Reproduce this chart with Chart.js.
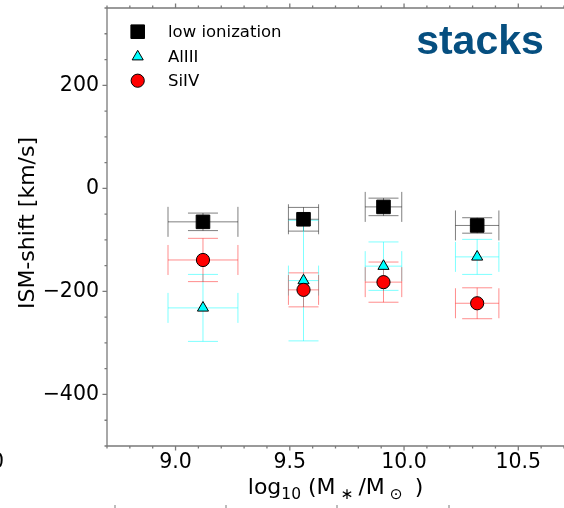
<!DOCTYPE html>
<html>
<head>
<meta charset="utf-8">
<script src="https://cdn.jsdelivr.net/npm/chart.js@4.4.1/dist/chart.umd.min.js"></script>
<style>
html, body { margin: 0; padding: 0; background: #fff; overflow: hidden; }
canvas { display: block; }
</style>
</head>
<body>
<canvas id="ismShift" width="564" height="508"></canvas>
<script>
// stacked spectra: stellar mass bins and measured ISM velocity shifts
const stellarMass = [9.12, 9.56, 9.91, 10.32];
const massErr = [0.153, 0.066, 0.08, 0.095];

const lowIonShift = [-65, -60, -36, -72];
const lowIonErr = [17, 23, 17, 15];
const al3Shift = [-232, -179, -151, -133];
const al3Err = [65, 117, 47, 34];
const si4Shift = [-139, -197, -182, -223];
const si4Err = [42, 33, 39, 30];

const xMajorTicks = [9.0, 9.5, 10.0, 10.5];
const yMajorTicks = [-400, -200, 0, 200];

const FONT = 'DejaVu Sans';
const AXIS_GREY = '#7a7a7a';

function points(ys) {
    return stellarMass.map(function (m, i) {
        return { x: m, y: ys[i] };
    });
}

// per dataset: y errors and the colour of the bars
const errorSets = [
    { err: lowIonErr, color: 'rgba(0, 0, 0, 0.5)' },
    { err: al3Err, color: 'rgba(0, 255, 255, 0.5)' },
    { err: si4Err, color: 'rgba(255, 0, 0, 0.45)' }
];

function stepValues(min, max, step) {
    const out = [];
    for (let v = Math.ceil(min / step - 1e-9) * step; v <= max + 1e-9; v += step) {
        out.push(Math.round(v * 1000) / 1000);
    }
    return out;
}

const errorBars = {
    id: 'errorBars',
    beforeDatasetsDraw(chart) {
        const ctx = chart.ctx;
        const x = chart.scales.x;
        const y = chart.scales.y;
        const cap = 15;
        ctx.save();
        ctx.lineWidth = 1;
        chart.data.datasets.forEach(function (ds, i) {
            const e = errorSets[i];
            ctx.strokeStyle = e.color;
            ds.data.forEach(function (p, j) {
                const px = x.getPixelForValue(p.x);
                const py = y.getPixelForValue(p.y);
                const xl = x.getPixelForValue(p.x - massErr[j]);
                const xr = x.getPixelForValue(p.x + massErr[j]);
                const yt = y.getPixelForValue(p.y + e.err[j]);
                const yb = y.getPixelForValue(p.y - e.err[j]);
                ctx.beginPath();
                ctx.moveTo(xl, py); ctx.lineTo(xr, py);
                ctx.moveTo(xl, py - cap); ctx.lineTo(xl, py + cap);
                ctx.moveTo(xr, py - cap); ctx.lineTo(xr, py + cap);
                ctx.moveTo(px, yt); ctx.lineTo(px, yb);
                ctx.moveTo(px - cap, yt); ctx.lineTo(px + cap, yt);
                ctx.moveTo(px - cap, yb); ctx.lineTo(px + cap, yb);
                ctx.stroke();
            });
        });
        ctx.restore();
    }
};

// spines plus major/minor tick marks (left, bottom and top)
const frame = {
    id: 'frame',
    afterDraw(chart) {
        const ctx = chart.ctx;
        const a = chart.chartArea;
        const x = chart.scales.x;
        const y = chart.scales.y;
        ctx.save();
        ctx.strokeStyle = AXIS_GREY;
        ctx.lineWidth = 1.3;
        ctx.beginPath();
        ctx.moveTo(a.left, a.top); ctx.lineTo(a.left, a.bottom);
        ctx.moveTo(a.left, a.bottom); ctx.lineTo(a.right + 2, a.bottom);
        ctx.moveTo(a.left, a.top); ctx.lineTo(a.right + 2, a.top);
        stepValues(x.min, x.max, 0.1).forEach(function (v) {
            const len = xMajorTicks.some(function (t) { return Math.abs(t - v) < 1e-6; }) ? 4.5 : 2.5;
            const px = x.getPixelForValue(v);
            ctx.moveTo(px, a.bottom); ctx.lineTo(px, a.bottom + len);
            ctx.moveTo(px, a.top); ctx.lineTo(px, a.top - len);
        });
        stepValues(y.min, y.max, 50).forEach(function (v) {
            const len = yMajorTicks.indexOf(v) >= 0 ? 4.5 : 2.5;
            const py = y.getPixelForValue(v);
            ctx.moveTo(a.left, py); ctx.lineTo(a.left - len, py);
        });
        ctx.stroke();
        ctx.restore();
    }
};

// axis titles, legend, panel tag
const annotations = {
    id: 'annotations',
    afterDraw(chart) {
        const ctx = chart.ctx;
        const a = chart.chartArea;
        ctx.save();
        ctx.fillStyle = '#000';

        // y title
        ctx.save();
        ctx.translate(33.5, (a.top + a.bottom) / 2 - 4);
        ctx.rotate(-Math.PI / 2);
        ctx.font = '22px "' + FONT + '"';
        ctx.textAlign = 'center';
        ctx.textBaseline = 'alphabetic';
        ctx.fillText('ISM-shift [km/s]', 0, 0);
        ctx.restore();

        // x title with subscripts
        const parts = [['log', 0], ['10', 1], [' (M', 0], [' \u2217 ', 1], ['/M', 0], [' \u2299 ', 1], [' )', 0]];
        const big = '22px "' + FONT + '"';
        const small = '15.5px "' + FONT + '"';
        let total = 0;
        parts.forEach(function (p) {
            ctx.font = p[1] ? small : big;
            total += ctx.measureText(p[0]).width;
        });
        let cx = (a.left + a.right) / 2 - total / 2;
        const base = 494;
        ctx.textAlign = 'left';
        ctx.textBaseline = 'alphabetic';
        parts.forEach(function (p) {
            ctx.font = p[1] ? small : big;
            ctx.fillText(p[0], cx, base + (p[1] ? 4.5 : 0));
            cx += ctx.measureText(p[0]).width;
        });

        // legend
        const rowY = [31.7, 56.7, 80.7];
        ctx.font = '16.5px "' + FONT + '"';
        ctx.textBaseline = 'middle';
        chart.data.datasets.forEach(function (ds, i) {
            ctx.fillStyle = ds.backgroundColor;
            ctx.strokeStyle = ds.borderColor;
            ctx.lineWidth = ds.borderWidth;
            Chart.helpers.drawPoint(ctx, {
                pointStyle: ds.pointStyle,
                radius: ds.pointRadius,
                borderWidth: ds.borderWidth,
                rotation: 0
            }, 137.7, rowY[i]);
            ctx.fillStyle = '#000';
            ctx.fillText(ds.label, 168, rowY[i] + 1);
        });

        // panel tag
        ctx.font = 'bold 41px "Liberation Sans"';
        ctx.fillStyle = '#064f80';
        ctx.textAlign = 'center';
        ctx.textBaseline = 'alphabetic';
        ctx.fillText('stacks', 480, 54);

        // edge of the neighbouring panel's tick label and tick row
        ctx.fillStyle = '#000';
        ctx.font = '20.5px "' + FONT + '"';
        ctx.textAlign = 'right';
        ctx.fillText('0', 4, 468);
        ctx.strokeStyle = AXIS_GREY;
        ctx.lineWidth = 1;
        ctx.beginPath();
        [115, 226, 337, 449].forEach(function (px) {
            ctx.moveTo(px, 505); ctx.lineTo(px, 508);
        });
        ctx.stroke();
        ctx.restore();
    }
};

new Chart(document.getElementById('ismShift').getContext('2d'), {
    type: 'scatter',
    data: {
        datasets: [
            {
                label: 'low ionization',
                data: points(lowIonShift),
                pointStyle: 'rect',
                pointRadius: 9.6,
                backgroundColor: '#000000',
                borderColor: '#000000',
                borderWidth: 1,
                order: 3
            },
            {
                label: 'AlIII',
                data: points(al3Shift),
                pointStyle: 'triangle',
                pointRadius: 6.4,
                backgroundColor: '#00ffff',
                borderColor: '#000000',
                borderWidth: 1,
                order: 2
            },
            {
                label: 'SiIV',
                data: points(si4Shift),
                pointStyle: 'circle',
                pointRadius: 6.6,
                backgroundColor: '#ff0000',
                borderColor: '#000000',
                borderWidth: 1,
                order: 1
            }
        ]
    },
    options: {
        responsive: false,
        animation: false,
        devicePixelRatio: 1,
        layout: { autoPadding: false, padding: { top: 8, right: 0, left: 0, bottom: 0 } },
        plugins: {
            legend: { display: false },
            tooltip: { enabled: false }
        },
        scales: {
            x: {
                type: 'linear',
                min: 8.7,
                max: 10.7,
                afterFit: function (s) {
                    s.height = 62;
                    s.paddingLeft = 0;
                    s.paddingRight = 0;
                },
                afterBuildTicks: function (s) {
                    s.ticks = xMajorTicks.map(function (v) { return { value: v }; });
                },
                ticks: {
                    font: { family: FONT, size: 20.5 },
                    color: '#000',
                    padding: 4,
                    maxRotation: 0,
                    autoSkip: false,
                    callback: function (v) { return Number(v).toFixed(1); }
                },
                grid: { display: false, drawTicks: false },
                border: { display: false }
            },
            y: {
                type: 'linear',
                min: -500,
                max: 350,
                afterFit: function (s) {
                    s.width = 107;
                    s.paddingTop = 0;
                    s.paddingBottom = 0;
                },
                afterBuildTicks: function (s) {
                    s.ticks = yMajorTicks.map(function (v) { return { value: v }; });
                },
                ticks: {
                    font: { family: FONT, size: 20.5 },
                    color: '#000',
                    padding: 8,
                    autoSkip: false,
                    callback: function (v) { return v < 0 ? '\u2212' + Math.abs(v) : String(v); }
                },
                grid: { display: false, drawTicks: false },
                border: { display: false }
            }
        }
    },
    plugins: [errorBars, frame, annotations]
});
</script>
</body>
</html>
